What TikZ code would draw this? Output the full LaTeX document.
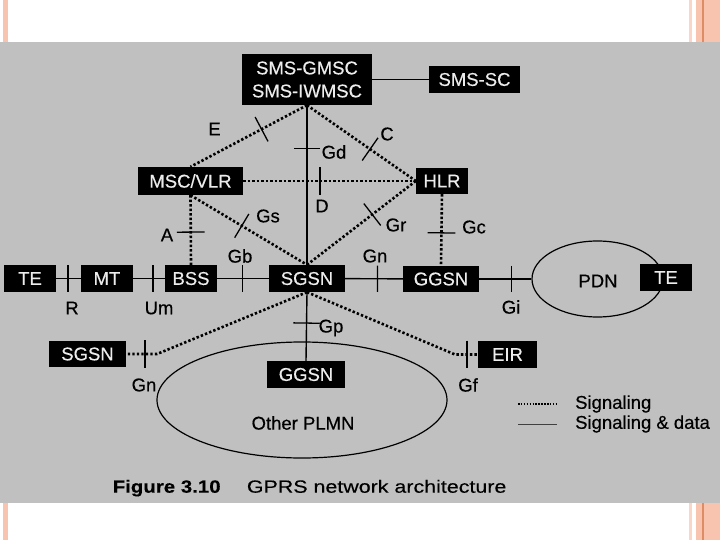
\documentclass[tikz,border=0pt]{standalone}
\usepackage{fontspec}
\setmainfont[FakeBold=0.4]{Liberation Sans}
\newfontfamily\capfont[FakeStretch=1.21,FakeBold=0.3,BoldFeatures={FakeStretch=1.155}]{Liberation Sans}
\usetikzlibrary{shapes.geometric}
\definecolor{bg}{RGB}{192,192,192}
\definecolor{boxtext}{RGB}{236,236,236}
\definecolor{pinkA}{RGB}{248,196,176}
\definecolor{pinkL}{RGB}{250,214,200}
\definecolor{pinkD}{RGB}{222,140,100}
\begin{document}
\begin{tikzpicture}[x=1pt,y=-1pt,
 box/.style={fill=black, text=boxtext, inner sep=0pt, font=\fontsize{18.5}{23}\selectfont, align=center},
 lbl/.style={inner sep=0pt, font=\fontsize{18.5}{22}\selectfont},
 sig/.style={line width=2.6pt, dash pattern=on 2.4pt off 2.1pt},
 dat/.style={line width=1.4pt},
 tk/.style={inner sep=0pt, minimum width=0pt, minimum height=25pt, sloped},
 tkline/.style={line width=1.3pt},
 ring/.style={draw, ellipse, inner sep=0pt, line width=1.2pt}]
\useasboundingbox (0,0) rectangle (720,540);
% slide background
\fill[white] (0,0) rectangle (720,540);
\fill[pinkA] (3,0) rectangle (8,540);
\fill[pinkL] (689,0) rectangle (692,540);
\fill[pinkA] (696,0) rectangle (720,540);
\fill[pinkD] (702,0) rectangle (703.5,540);
\fill[bg] (0,42) rectangle (720,503);
% ellipses
\node[ring, minimum width=290pt, minimum height=116pt] (plmn) at (302,400) {};
\node[ring, minimum width=131pt, minimum height=76pt] (pdn) at (597.5,279) {};
% boxes
\node[box, minimum width=130pt, minimum height=51pt] (sms) at (307,79.5) {SMS-GMSC\\SMS-IWMSC};
\node[box, minimum width=91pt, minimum height=27pt] (smssc) at (474.5,79.5) {SMS-SC};
\node[box, minimum width=105pt, minimum height=28pt] (msc) at (190.5,181) {MSC/VLR};
\node[box, minimum width=52pt, minimum height=26pt] (hlr) at (442,181) {HLR};
\node[box, minimum width=52pt, minimum height=27pt] (te) at (30,278.5) {TE};
\node[box, minimum width=52pt, minimum height=27pt] (mt) at (107,278.5) {MT};
\node[box, minimum width=52pt, minimum height=27pt] (bss) at (191,278.5) {BSS};
\node[box, minimum width=76pt, minimum height=27pt] (sgsn) at (307,278.5) {SGSN};
\node[box, minimum width=76pt, minimum height=26pt] (ggsn) at (441,279) {GGSN};
\node[box, minimum width=52pt, minimum height=27pt] (tetwo) at (666,277.5) {TE};
\node[box, minimum width=77pt, minimum height=26pt] (sgsntwo) at (87.5,354) {SGSN};
\node[box, minimum width=59pt, minimum height=27pt] (eir) at (507.5,354.5) {EIR};
\node[box, minimum width=78pt, minimum height=27pt] (ggsntwo) at (306,374.5) {GGSN};
\coordinate (c1) at (157,354);
\coordinate (c2) at (455,354.5);
% connectors
\draw[dat] (sms.east) -- (smssc.west);
\draw[dat] (sms.south) -- (sgsn.north) node[tk,pos=0.27] (tGd) {};
\draw[sig] (sms.south) -- (msc.north) node[tk,pos=0.39] (tE) {};
\draw[sig] (sms.south) -- (hlr.west) node[tk,pos=0.58] (tC) {};
\draw[sig] (msc.east) -- (hlr.west) node[tk,pos=0.445] (tD) {};
\draw[sig] (msc.south) -- (sgsn.north) node[tk,pos=0.44] (tGs) {};
\draw[sig] (hlr.west) -- (sgsn.north) node[tk,pos=0.4] (tGr) {};
\draw[sig] (msc.south) -- (bss.north) node[tk,pos=0.53] (tA) {};
\draw[sig] (hlr.south) -- (ggsn.north) node[tk,pos=0.54] (tGc) {};
\draw[dat] (te) -- (mt) node[tk,pos=0.48] (tR) {};
\draw[dat] (mt) -- (bss) node[tk,pos=0.63] (tUm) {};
\draw[dat] (bss) -- (sgsn) node[tk,pos=0.49] (tGb) {};
\draw[dat] (sgsn) -- (ggsn) node[tk,pos=0.56] (tGn) {};
\draw[dat] (ggsn.east) -- (pdn.west) node[tk,pos=0.62] (tGi) {};
\draw[dat] (sgsn.south) -- (ggsntwo.north) node[tk,pos=0.45] (tGp) {};
\draw[sig] (sgsn.south) -- (c1) -- (sgsntwo.east) node[tk,pos=0.39] (tGnb) {};
\draw[sig] (sgsn.south) -- (c2) -- (eir.west) node[tk,pos=0.52] (tGf) {};
\foreach \t in {tGd,tE,tC,tD,tGs,tGr,tA,tGc,tR,tUm,tGb,tGn,tGi,tGp,tGnb,tGf}
  \draw[tkline] (\t.north) -- (\t.south);
% interface labels
\node[lbl] (lE) at (214.5,129) {E};
\node[lbl] (lC) at (387,134) {C};
\node[lbl] (lGd) at (334,152) {Gd};
\node[lbl] (lD) at (322,206) {D};
\node[lbl] (lGs) at (268,216) {Gs};
\node[lbl] (lGr) at (396,225) {Gr};
\node[lbl] (lA) at (167,235) {A};
\node[lbl] (lGc) at (474,227) {Gc};
\node[lbl] (lGb) at (240,256) {Gb};
\node[lbl] (lGn) at (375,256) {Gn};
\node[lbl] (lR) at (72,308) {R};
\node[lbl] (lUm) at (159,308) {Um};
\node[lbl] (lGi) at (511,307) {Gi};
\node[lbl] (lGp) at (331,328) {Gp};
\node[lbl] (lGnb) at (144,385) {Gn};
\node[lbl] (lGf) at (468,385) {Gf};
\node[lbl] (lPDN) at (598,281) {PDN};
\node[lbl] (lPLMN) at (303,423) {Other PLMN};
% legend
\coordinate (la1) at (518,404);
\coordinate (la2) at (557,404);
\coordinate (lb1) at (518,424);
\coordinate (lb2) at (557,424);
\draw[line width=1.6pt, dash pattern=on 1.5pt off 1.4pt] (la1) -- (la2);
\draw[line width=1pt, black!75] (lb1) -- (lb2);
\node[lbl, anchor=west] (lg1) at (575,404) {Signaling};
\node[lbl, anchor=west] (lg2) at (575,424) {Signaling \& data};
% caption
\node[anchor=base west, inner sep=0pt, font=\capfont\fontsize{17.7}{20}\selectfont] (cap1) at (112.5,492.7) {\textbf{Figure 3.10}};
\node[anchor=base west, inner sep=0pt, font=\capfont\fontsize{17.7}{20}\selectfont] (cap2) at (246.7,492.7) {GPRS network architecture};
\end{tikzpicture}
\end{document}
